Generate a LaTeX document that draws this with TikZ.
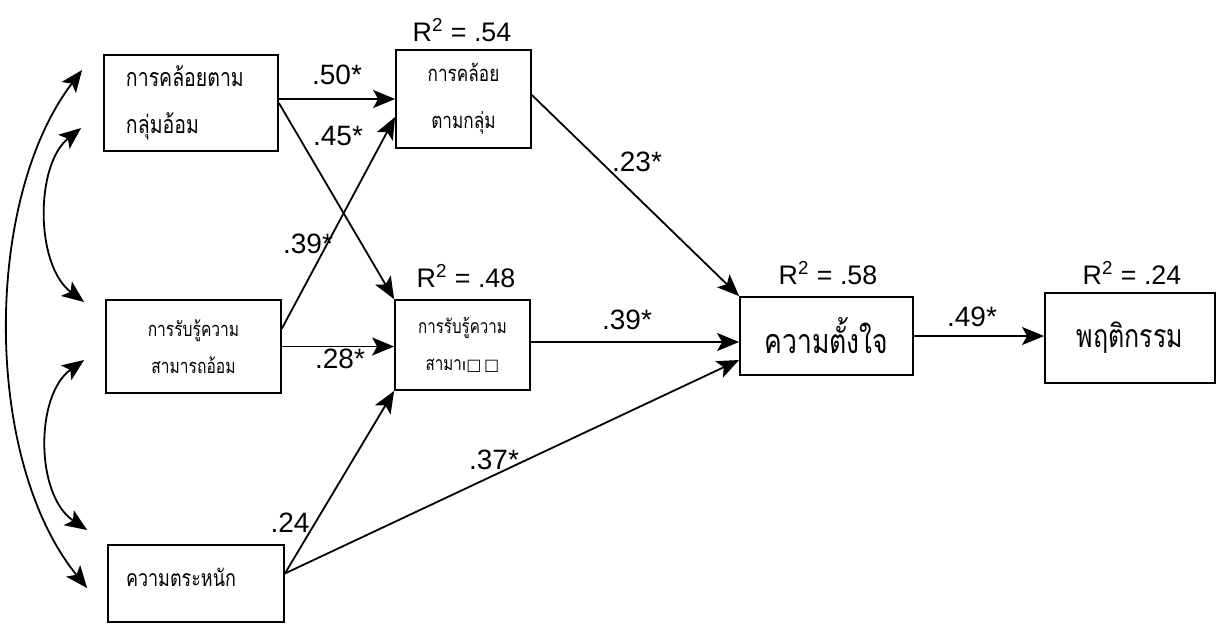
\documentclass[tikz,border=0pt]{standalone}
\usepackage{fontspec}
\setmainfont{Liberation Sans}
\newfontfamily\thaifont[Script=Thai,FakeStretch=0.78]{Loma}
\newfontfamily\boxfont{DejaVu Sans}
\usetikzlibrary{arrows.meta,calc}

\tikzset{
  var/.style={draw,line width=0.9pt,inner sep=0pt,align=center},
  effect/.style={line width=0.9pt,-{Stealth[length=11pt,width=9pt,inset=2.5pt]}},
  corr/.style={line width=0.9pt,{Stealth[length=11pt,width=9pt,inset=2.5pt]}-{Stealth[length=11pt,width=9pt,inset=2.5pt]}},
  coef/.style={font=\fontsize{14}{16}\selectfont},
  rsq/.style={font=\fontsize{13.4}{16}\selectfont},
}

\begin{document}
\begin{tikzpicture}[x=0.5pt,y=-0.5pt]
    \useasboundingbox (0,0) rectangle (1223,623);
    % exogenous variables
    \node[var,minimum width=87pt,minimum height=48pt,text width=65pt,align=left,
      font=\thaifont\fontsize{12.5}{23.5}\selectfont] (A) at (191,103) {การคล้อยตาม\\กลุ่มอ้อม};
    \node[var,minimum width=87.5pt,minimum height=46.5pt,
      font=\thaifont\fontsize{10}{18.5}\selectfont] (C) at (193.5,346.5) {การรับรู้ความ\\สามารถอ้อม};
    \node[var,minimum width=88pt,minimum height=38.5pt] (G) at (196,583.5) {};
    \node[font=\thaifont\fontsize{11.5}{14}\selectfont] (Gtext) at (181,577) {ความตระหนัก};
    % mediators
    \node[var,minimum width=67.5pt,minimum height=49pt,
      font=\thaifont\fontsize{11}{23.5}\selectfont] (B) at (463.5,99) {การคล้อย\\ตามกลุ่ม};
    \node[var,minimum width=67.5pt,minimum height=45pt,
      font=\thaifont\fontsize{9.7}{18.5}\selectfont] (D) at (462.5,345) {การรับรู้ความ\\สามา{\boxfont\fontsize{8}{10}\selectfont ı□\,□}};
    \node[var,minimum width=86.5pt,minimum height=39pt,
      font=\thaifont\fontsize{17}{18}\selectfont] (E) at (826.5,336) {ความตั้งใจ};
    \node[var,minimum width=85pt,minimum height=45pt,
      font=\thaifont\fontsize{16}{18}\selectfont] (F) at (1130,338) {พฤติกรรม};
    % R squared
    \node[rsq] (rB) at (462,30) {R\textsuperscript{2} = .54};
    \node[rsq] (rD) at (466,276) {R\textsuperscript{2} = .48};
    \node[rsq] (rE) at (828,273) {R\textsuperscript{2} = .58};
    \node[rsq] (rF) at (1132,273) {R\textsuperscript{2} = .24};
    % paths
    \coordinate (c1) at ($(C.east)+(0,-18)$);
    \coordinate (g1) at ($(G.east)+(0,-10)$);
    \coordinate (d1) at ($(D.east)+(0,-3)$);
    \draw[effect] (A.east |- B.west) -- (B.west);
    \draw[effect] (A.east) -- (D.north west);
    \draw[effect] (c1) -- ($(B.west)+(0,18)$);
    \draw[effect] (C.east) -- (C.east -| D.west);
    \draw[effect] (g1) -- (D.south west);
    \draw[effect] (g1) -- ($(E.west)+(0,24)$);
    \draw[effect] ($(B.east)+(0,-4)$) -- (E.north west);
    \draw[effect] (d1) -- (d1 -| E.west);
    \draw[effect] (E.east) -- (E.east -| F.west);
    \node[coef] (pAB) at (337,75) {.50*};
    \node[coef] (pAD) at (338,136) {.45*};
    \node[coef] (pCB) at (308,244) {.39*};
    \node[coef] (pCD) at (340,359) {.28*};
    \node[coef] (pGD) at (290,523) {.24};
    \node[coef] (pGE) at (494,460) {.37*};
    \node[coef] (pBE) at (637,162) {.23*};
    \node[coef] (pDE) at (627,320) {.39*};
    \node[coef] (pEF) at (972,317) {.49*};
    % correlations
    \coordinate (a1) at ($(A.west)+(-22,25)$);
    \coordinate (a2) at ($(A.west)+(-21,-33)$);
    \coordinate (c2) at ($(C.west)+(-21,-44.5)$);
    \coordinate (c3) at ($(C.west)+(-21,13.5)$);
    \coordinate (g2) at ($(G.west)+(-20,-53.5)$);
    \coordinate (g3) at ($(G.west)+(-20,4.5)$);
    \draw[corr] (a1) .. controls (35,165) and (35,265) .. (c2);
    \draw[corr] (c3) .. controls (35,395) and (35,495) .. (g2);
    \draw[corr] (a2) .. controls (-17,200) and (-17,460) .. (g3);
\end{tikzpicture}
\end{document}
